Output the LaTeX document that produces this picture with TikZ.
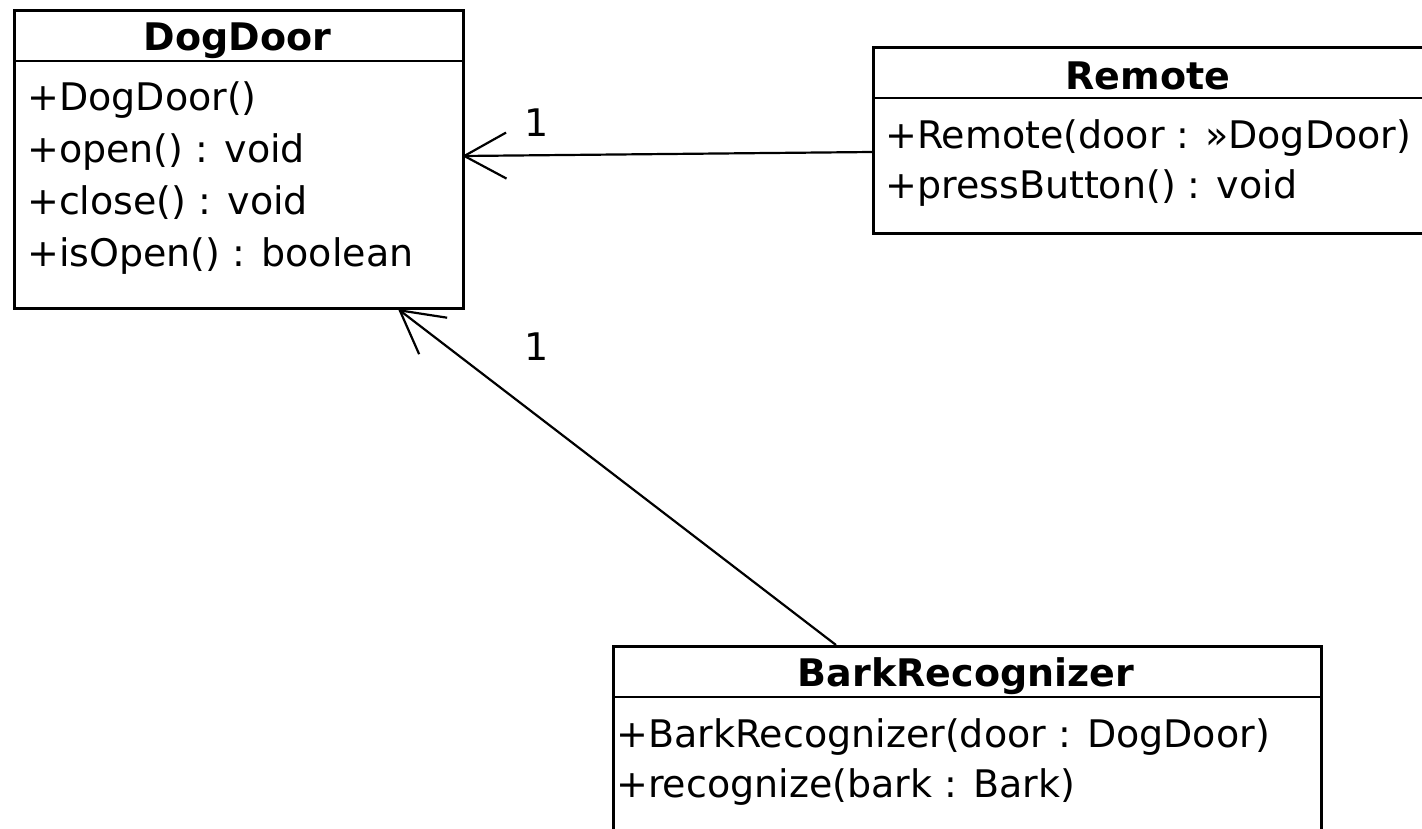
\documentclass[tikz,border=0pt]{standalone}
\usepackage{fontspec}
\setmainfont{DejaVu Sans}
\usetikzlibrary{arrows.meta}
\begin{document}
\begin{tikzpicture}[x=1pt,y=-1pt,line width=2.5pt,
  classbox/.style={draw,line width=2.5pt,inner sep=0pt,anchor=north west},
  classname/.style={font=\fontsize{38}{46}\selectfont\bfseries,anchor=base,inner sep=0pt},
  member/.style={font=\fontsize{38}{46}\selectfont,anchor=base west,inner sep=0pt},
  mult/.style={font=\fontsize{38}{46}\selectfont,inner sep=0pt},
  assoc/.style={line width=2.2pt,-{Straight Barb[length=42pt,width=46pt,line width=2.2pt]}}
]
\useasboundingbox (0,0) rectangle (1422,828);
\path[clip] (0,0) rectangle (1422,828);

% DogDoor class
\node[classbox,minimum width=449pt,minimum height=298pt] (dogdoor) at (13,9) {};
\draw (13,61) -- (462,61);
\node[classname] (dd-name) at (237.5,50) {DogDoor};
\node[member] (dd-m1) at (26,110) {+DogDoor()};
\node[member] (dd-m2) at (26,162) {+open() : void};
\node[member] (dd-m3) at (26,214) {+close() : void};
\node[member] (dd-m4) at (26,266) {+isOpen() : boolean};

% Remote class (runs past the right edge)
\node[classbox,minimum width=560pt,minimum height=186pt] (remote) at (872,46) {};
\draw (872,98) -- (1440,98);
\node[classname] (r-name) at (1148,89) {Remote};
\node[member] (r-m1) at (884,148) {+Remote(door : »DogDoor)};
\node[member] (r-m2) at (884,198) {+pressButton() : void};

% BarkRecognizer class (runs past the bottom edge)
\node[classbox,minimum width=708pt,minimum height=220pt] (bark) at (612,645) {};
\draw (612,697) -- (1320,697);
\node[classname] (b-name) at (966,686) {BarkRecognizer};
\node[member] (b-m1) at (615,747) {+BarkRecognizer(door : DogDoor)};
\node[member] (b-m2) at (615,797) {+recognize(bark : Bark)};

% association ends
\coordinate (dd-in1) at (462,156);
\coordinate (dd-in2) at (398,309);
\coordinate (r-out) at (872,152);
\coordinate (b-out) at (836,645);

\draw[assoc] (r-out) -- (dd-in1);
\draw[assoc] (b-out) -- (dd-in2);
\node[mult] (mult1) at (537,123) {1};
\node[mult] (mult2) at (537,347) {1};
\end{tikzpicture}
\end{document}
